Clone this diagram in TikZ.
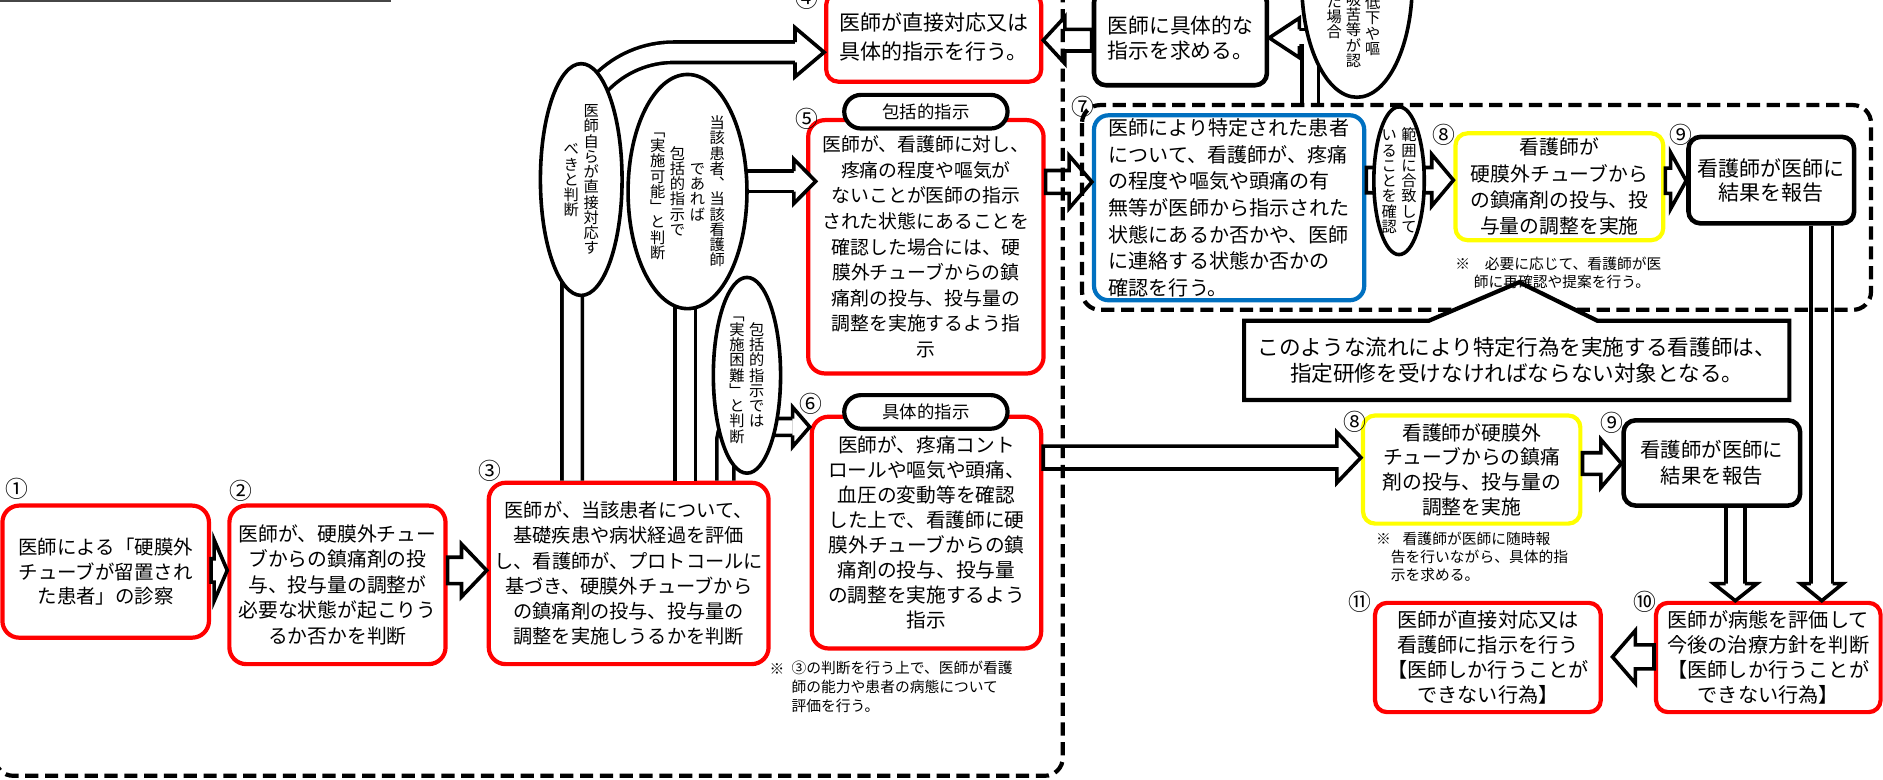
\documentclass[tikz,border=0pt]{standalone}
\usepackage{fontspec}
\setmainfont{Noto Sans CJK JP}
\usetikzlibrary{calc,shapes.geometric}
\definecolor{rd}{RGB}{255,0,0}
\definecolor{yl}{RGB}{255,255,0}
\definecolor{bl}{RGB}{0,112,192}
\definecolor{gl}{RGB}{70,70,70}
\makeatletter
\def\vcol#1{\vbox{\offinterlineskip\vc@loop#1\relax}}
\def\vc@loop#1{\ifx#1\relax\else\hbox to 1em{\hss\rule[-0.12em]{0pt}{1em}#1\hss}\expandafter\vc@loop\fi}
\makeatother
\newcommand\vg{\kern3.8pt}
\newcommand\barrow[6]{%
  \coordinate (#6q) at ($(#2)!#5!(#1)$);
  \filldraw[arrowshape] ($(#1)!#3!90:(#2)$) -- ($(#6q)!#3!90:(#2)$) -- ($(#6q)!#4!90:(#2)$) -- (#2) -- ($(#6q)!#4!-90:(#2)$) -- ($(#6q)!#3!-90:(#2)$) -- ($(#1)!#3!-90:(#2)$) -- cycle;}
\newcommand\bhead[4]{%
  \filldraw[arrowshape] ($(#1)!#3!90:(#2)$) -- ($(#1)!#4!90:(#2)$) -- (#2) -- ($(#1)!#4!-90:(#2)$) -- ($(#1)!#3!-90:(#2)$);}
\begin{document}
\begin{tikzpicture}[x=1pt,y=-1pt,
  rbox/.style={draw=rd, line width=3.5pt, rounded corners=14pt, fill=white, align=center, inner sep=0pt, font=\fontsize{16.5}{21.3}\selectfont},
  kbox/.style={draw=black, line width=3.8pt, rounded corners=10pt, fill=white, align=center, inner sep=0pt},
  ybox/.style={draw=yl, line width=3.5pt, rounded corners=10pt, fill=white, align=center, inner sep=0pt},
  bbox/.style={draw=bl, line width=3.5pt, rounded corners=12pt, fill=white, align=left, inner sep=0pt},
  pill/.style={draw=black, line width=3.5pt, fill=white, rounded corners=14pt, inner sep=0pt, font=\fontsize{14.5}{14.5}\selectfont},
  vell/.style={ellipse, draw=black, line width=3pt, fill=white, inner sep=0pt},
  vtext/.style={inner sep=0pt, font=\fontsize{12.7}{12.7}\selectfont},
  num/.style={inner sep=0pt, font=\fontsize{19}{19}\selectfont},
  note/.style={inner sep=0pt, align=left, anchor=north west, font=\fontsize{12.3}{15.5}\selectfont},
  arrowshape/.style={fill=white, draw=black, line width=3pt, line join=miter},
  pipe/.style={draw=black, line width=3pt, double=white, double distance=#1},
  region/.style={draw=black, line width=3.5pt, dash pattern=on 11pt off 5.5pt, rounded corners=15pt}
]
\useasboundingbox (0,0) rectangle (1568,649);
\clip (0,0) rectangle (1568,649);

\draw[line width=1.5pt, draw=gl] (0,0.8) -- (326,0.8);

% ---------- coordinates for connectors
\coordinate (pAx) at (476.5,0);
\coordinate (pBx) at (570.5,0);
\coordinate (pCx) at (604,0);
\coordinate (p9ax) at (1517,0);
\coordinate (p9bx) at (1445,0);
\coordinate (hA) at (662,43.5);
\coordinate (hB) at (661,151);
\coordinate (hC) at (660,355.5);
\coordinate (hT) at (1082,31.5);
\coordinate (r7top) at (1091,87.5);
\coordinate (cT) at (1091,31.5);
\coordinate (h9a) at (1517,486);
\coordinate (h9b) at (1445,486);

% ---------- boxes
\node[rbox, minimum width=172pt, minimum height=110pt, font=\fontsize{16.2}{20.5}\selectfont] (n1) at (88,476) {医師による「硬膜外\\チューブが留置され\\た患者」の診察};
\node[rbox, minimum width=180pt, minimum height=132pt] (n2) at (281,487) {医師が、硬膜外チュー\\ブからの鎮痛剤の投\\与、投与量の調整が\\必要な状態が起こりう\\るか否かを判断};
\node[rbox, minimum width=233pt, minimum height=151pt, font=\fontsize{16}{21}\selectfont] (n3) at (523.5,477.5) {医師が、当該患者について、\\基礎疾患や病状経過を評価\\し、看護師が、プロトコールに\\基づき、硬膜外チューブから\\の鎮痛剤の投与、投与量の\\調整を実施しうるかを判断};

% ---------- pipes (under boxes and ellipses)
\draw[pipe=14pt, rounded corners=84.5pt] (n3.north -| pAx) -- (pAx |- hA) -- (hA);
\draw[pipe=14pt] (n3.north -| pBx) -- (pBx |- hB) -- (hB);
\draw[pipe=11pt, rounded corners=10pt] (n3.north -| pCx) -- (pCx |- hC) -- (hC);
\draw[pipe=11pt] (r7top) -- (cT) -- (hT);

\node[rbox, minimum width=179pt, minimum height=74pt, rounded corners=10pt, font=\fontsize{17.5}{24}\selectfont] (n4) at (777.5,31) {医師が直接対応又は\\具体的指示を行う。};
\node[kbox, minimum width=144pt, minimum height=79pt, align=left, font=\fontsize{17.3}{21}\selectfont] (nask) at (983,31.5) {医師に具体的な\\指示を求める。};
\node[rbox, minimum width=196pt, minimum height=211pt, font=\fontsize{15.7}{21.3}\selectfont] (n5) at (771,205.5) {医師が、看護師に対し、\\疼痛の程度や嘔気が\\ないことが医師の指示\\された状態にあることを\\確認した場合には、硬\\膜外チューブからの鎮\\痛剤の投与、投与量の\\調整を実施するよう指\\示};
\node[rbox, minimum width=191pt, minimum height=193pt, font=\fontsize{16.4}{20.8}\selectfont] (n6) at (771.5,443.5) {医師が、疼痛コント\\ロールや嘔気や頭痛、\\血圧の変動等を確認\\した上で、看護師に硬\\膜外チューブからの鎮\\痛剤の投与、投与量\\の調整を実施するよう\\指示};
\node[bbox, minimum width=225pt, minimum height=154pt, font=\fontsize{16.7}{22.2}\selectfont] (n7) at (1023.5,173) {医師により特定された患者\\について、看護師が、疼痛\\の程度や嘔気や頭痛の有\\無等が医師から指示された\\状態にあるか否かや、医師\\に連絡する状態か否かの\\確認を行う。};
\node[ybox, minimum width=173pt, minimum height=89pt, font=\fontsize{16.5}{22}\selectfont] (n8a) at (1298.5,155.5) {看護師が\\硬膜外チューブから\\の鎮痛剤の投与、投\\与量の調整を実施};
\node[kbox, minimum width=138pt, minimum height=72pt, font=\fontsize{17.5}{20}\selectfont] (n9a) at (1475,150) {看護師が医師に\\結果を報告};
\node[ybox, minimum width=181pt, minimum height=90pt, font=\fontsize{16.5}{20.5}\selectfont] (n8b) at (1225.5,391) {看護師が硬膜外\\チューブからの鎮痛\\剤の投与、投与量の\\調整を実施};
\node[kbox, minimum width=147pt, minimum height=71pt, font=\fontsize{17}{22}\selectfont] (n9b) at (1425.5,385.5) {看護師が医師に\\結果を報告};

\draw[pipe=15pt] (n9a.south -| p9ax) -- (h9a);
\draw[pipe=13pt] (n9b.south -| p9bx) -- (h9b);

\node[rbox, minimum width=187pt, minimum height=91pt, rounded corners=10pt, font=\fontsize{16.8}{20.8}\selectfont] (n10) at (1472.5,547.5) {医師が病態を評価して\\今後の治療方針を判断\\【医師しか行うことが\\できない行為】};
\node[rbox, minimum width=188pt, minimum height=91pt, rounded corners=10pt, font=\fontsize{16.8}{20.8}\selectfont] (n11) at (1239,547.5) {医師が直接対応又は\\看護師に指示を行う\\【医師しか行うことが\\できない行為】};

% ---------- arrow heads of pipes
\coordinate (tA) at (n4.west |- hA);
\coordinate (tB) at ($(n5.west |- hB)+(8,0)$);
\coordinate (tC) at (n6.west |- hC);
\coordinate (tT) at (nask.east |- hT);
\coordinate (t9a) at (h9a |- n10.north);
\coordinate (t9b) at (h9b |- n10.north);
\bhead{hA}{tA}{8.5pt}{20.5pt}
\bhead{hB}{tB}{8.5pt}{18.5pt}
\bhead{hC}{tC}{7pt}{16.5pt}
\bhead{hT}{tT}{7pt}{16.5pt}
\bhead{h9a}{t9a}{9pt}{17.5pt}
\bhead{h9b}{t9b}{8pt}{18pt}

% ---------- straight block arrows
\coordinate (y12) at (0,475);
\coordinate (y4) at (0,33.5);
\coordinate (y57) at (0,151.5);
\coordinate (y78) at (0,150);
\coordinate (y89a) at (0,150.5);
\coordinate (y68) at (0,381);
\coordinate (y89b) at (0,386);
\coordinate (y1011) at (0,547);
\coordinate (a12s) at (n1.east |- y12);
\coordinate (a12t) at (n2.west |- y12);
\coordinate (a23s) at (n2.east |- y12);
\coordinate (a23t) at (n3.west |- y12);
\coordinate (a4s) at (nask.west |- y4);
\coordinate (a4t) at (n4.east |- y4);
\coordinate (a57s) at (n5.east |- y57);
\coordinate (a57t) at (n7.west |- y57);
\coordinate (a78s) at (n7.east |- y78);
\coordinate (a78t) at (n8a.west |- y78);
\coordinate (a89as) at (n8a.east |- y89a);
\coordinate (a89at) at (n9a.west |- y89a);
\coordinate (a68s) at (n6.east |- y68);
\coordinate (a68t) at (n8b.west |- y68);
\coordinate (a89bs) at (n8b.east |- y89b);
\coordinate (a89bt) at (n9b.west |- y89b);
\coordinate (a1011s) at (n10.west |- y1011);
\coordinate (a1011t) at ($(n11.east |- y1011)+(8,0)$);
\barrow{a12s}{a12t}{9.7pt}{25.6pt}{11pt}{a12}
\barrow{a23s}{a23t}{11pt}{22pt}{21pt}{a23}
\barrow{a4s}{a4t}{9pt}{19.5pt}{18pt}{a4}
\barrow{a57s}{a57t}{9.5pt}{22pt}{19pt}{a57}
\barrow{a78s}{a78t}{10.5pt}{21.5pt}{18pt}{a78}
\barrow{a89as}{a89at}{10.5pt}{23.5pt}{13pt}{a89a}
\barrow{a68s}{a68t}{9.5pt}{21pt}{20pt}{a68}
\barrow{a89bs}{a89bt}{9pt}{20pt}{17pt}{a89b}
\barrow{a1011s}{a1011t}{10pt}{22pt}{19pt}{a1011}

% ---------- ellipses with vertical text
\node[vell, minimum width=68pt, minimum height=193pt] (eA) at (484,149.5) {};
\node[vtext] (eAt) at (eA) {$\vcenter{\vcol{べきと判断}}$\vg$\vcenter{\vcol{医師自らが直接対応す}}$};
\node[vell, minimum width=99pt, minimum height=195pt] (eB) at (572.5,159.5) {};
\node[vtext] (eBt) at (eB) {$\vcenter{\vcol{﹁実施可能﹂と判断}}$\vg$\vcenter{\vcol{包括的指示で}}$\vg$\vcenter{\vcol{であれば}}$\vg$\vcenter{\vcol{当該患者︑当該看護師}}$};
\node[vell, minimum width=56pt, minimum height=163pt] (eC) at (622,312.5) {};
\node[vtext] (eCt) at (eC) {$\vcenter{\vcol{﹁実施困難﹂と判断}}$\vg$\vcenter{\vcol{包括的指示では}}$};
\node[vell, minimum width=42pt, minimum height=123pt] (eR) at (1165,150.5) {};
\node[vtext] (eRt) at (eR) {$\vcenter{\vcol{いることを確認}}$\vg$\vcenter{\vcol{範囲に合致して}}$};
\node[vell, minimum width=92pt, minimum height=190pt] (eT) at (1130,-14) {};
\node[vtext, anchor=south] (eT1) at (1143,47) {\vcol{低下や嘔}};
\node[vtext, anchor=south] (eT2) at (1127,57) {\vcol{吸苦等が認}};
\node[vtext, anchor=south] (eT3) at (1111,33) {\vcol{た場合}};

% ---------- dashed regions
\draw[region] (-4,-60) rectangle (885,646);
\draw[region] (901,87.5) rectangle (1558,258);

% ---------- callout
\filldraw[fill=white, draw=black, line width=3.5pt, line join=miter] (1036,267) -- (1190,267) -- (1265,235) -- (1330,267) -- (1490,267) -- (1490,333) -- (1036,333) -- cycle;
\node[inner sep=0pt, align=center, font=\fontsize{18}{22}\selectfont] (call) at (1263,300) {このような流れにより特定行為を実施する看護師は、\\指定研修を受けなければならない対象となる。};

% ---------- pills
\node[pill, minimum width=136pt, minimum height=28pt] (p5) at (771,93) {包括的指示};
\node[pill, minimum width=136pt, minimum height=28pt] (p6) at (771,343) {具体的指示};

% ---------- step numbers
\node[num] (l1) at (14,407) {①};
\node[num] (l2) at (201,409) {②};
\node[num] (l3) at (408,392) {③};
\node[num] (l4) at (672,-1) {④};
\node[num] (l5) at (672,99) {⑤};
\node[num] (l6) at (675,336) {⑥};
\node[num] (l7) at (902,89) {⑦};
\node[num] (l8a) at (1202,112) {⑧};
\node[num] (l9a) at (1400,112) {⑨};
\node[num] (l8b) at (1128,351) {⑧};
\node[num] (l9b) at (1342,352) {⑨};
\node[num] (l10) at (1370,501) {⑩};
\node[num] (l11) at (1132,501) {⑪};

% ---------- notes
\node[inner sep=0pt, font=\fontsize{12.3}{12.3}\selectfont] (k3) at (647,557) {※};
\node[note, font=\fontsize{12.3}{16}\selectfont] (nt3) at (659,550) {③の判断を行う上で、医師が看護\\師の能力や患者の病態について\\評価を行う。};
\node[inner sep=0pt, font=\fontsize{12.3}{12.3}\selectfont] (k8a) at (1218,220) {※};
\node[note, font=\fontsize{12.3}{15}\selectfont] (nt8a) at (1227,213.5) {\hspace*{0.75em}必要に応じて、看護師が医\\師に再確認や提案を行う。};
\node[inner sep=0pt, font=\fontsize{12.3}{12.3}\selectfont] (k8b) at (1152,449) {※};
\node[note, font=\fontsize{12.3}{15}\selectfont] (nt8b) at (1158,442.5) {\hspace*{0.8em}看護師が医師に随時報\\告を行いながら、具体的指\\示を求める。};
\end{tikzpicture}
\end{document}
